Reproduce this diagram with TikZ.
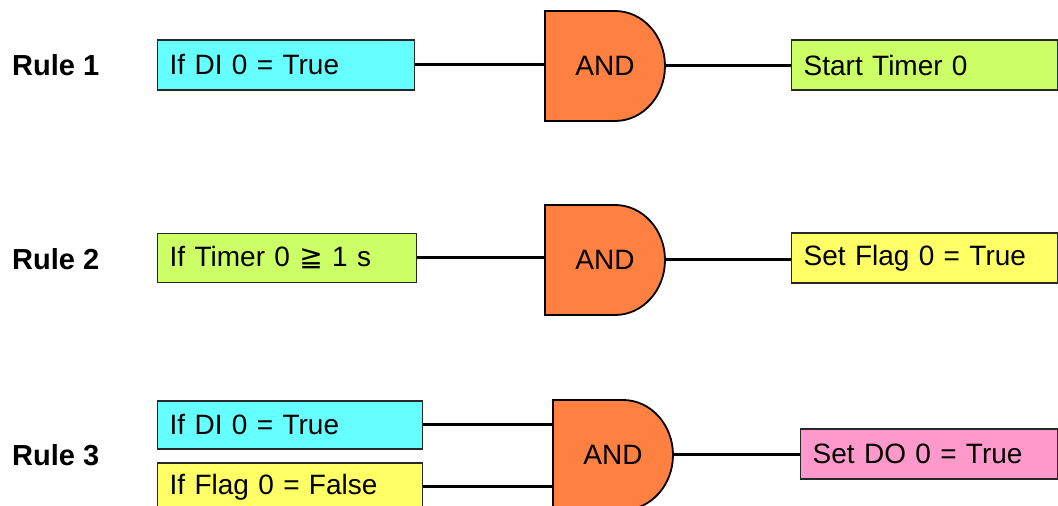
\documentclass[tikz,border=0pt]{standalone}
\usepackage{fontspec}
\setmainfont{Liberation Sans}
\newfontfamily\symfont{DejaVu Sans}
\definecolor{gatorange}{RGB}{255,128,64}
\definecolor{dicyan}{RGB}{102,255,255}
\definecolor{timegreen}{RGB}{204,255,102}
\definecolor{flagyellow}{RGB}{255,255,102}
\definecolor{dopink}{RGB}{255,153,204}
\definecolor{edgegray}{RGB}{40,40,40}
\usetikzlibrary{positioning}
\tikzset{
  rulelabel/.style={font=\fontsize{29}{34}\selectfont\bfseries,anchor=west,inner sep=0pt},
  condbox/.style={draw=edgegray,line width=1.4pt,anchor=west,minimum height=50pt,
    inner xsep=12pt,text width=#1,align=left,font=\fontsize{28}{33}\selectfont},
  gatebody/.style={fill=gatorange,draw=black,line width=1.8pt},
  gatelabel/.style={minimum width=120pt,minimum height=110pt,inner sep=0pt,
    font=\fontsize{28}{33}\selectfont},
  wire/.style={line width=3pt}
}
\newcommand{\andgate}[3]{%
  \draw[gatebody] (#2,#3) ++(-60,55) -- ++(70,0)
    arc[start angle=90,end angle=-90,x radius=50,y radius=55] -- ++(-70,0) -- cycle;
  \node[gatelabel] (#1) at (#2,#3) {AND};}
\begin{document}
\begin{tikzpicture}[x=1pt,y=1pt]
  \useasboundingbox (0,0) rectangle (1058,506);
  \clip (0,0) rectangle (1058,506);
  % rule names
  \foreach \i/\y in {1/441, 2/247, 3/51}{
    \node[rulelabel] (rule\i) at (12,\y) {Rule \i};
  }
  % Rule 1
  \node[condbox=233pt,fill=dicyan] (in1) at (157,441) {If DI 0 = True};
  \andgate{g1}{605}{440}
  \node[condbox=242pt,fill=timegreen] (out1) at (791,441) {Start Timer 0};
  \draw[wire] (in1.east) -- (in1.east -| g1.west);
  \draw[wire] (g1.east) -- (g1.east -| out1.west);
  % Rule 2
  \node[condbox=235pt,fill=timegreen,minimum height=49pt] (in2) at (157,248) {If Timer 0 {\symfont≧} 1 s};
  \andgate{g2}{605}{246}
  \node[condbox=242pt,fill=flagyellow] (out2) at (791,248) {Set Flag 0 = True};
  \draw[wire] (in2.east) -- (in2.east -| g2.west);
  \draw[wire] (g2.east) -- (g2.east -| out2.west);
  % Rule 3
  \node[condbox=241pt,fill=dicyan,minimum height=48pt] (in3a) at (157,81) {If DI 0 = True};
  \node[condbox=241pt,fill=flagyellow,minimum height=48pt] (in3b) at (157,19) {If Flag 0 = False};
  \andgate{g3}{613}{51}
  \node[condbox=233pt,fill=dopink] (out3) at (800,52) {Set DO 0 = True};
  \draw[wire] (in3a.east) -- (in3a.east -| g3.west);
  \draw[wire] (in3b.east) -- (in3b.east -| g3.west);
  \draw[wire] (g3.east) -- (g3.east -| out3.west);
\end{tikzpicture}
\end{document}
